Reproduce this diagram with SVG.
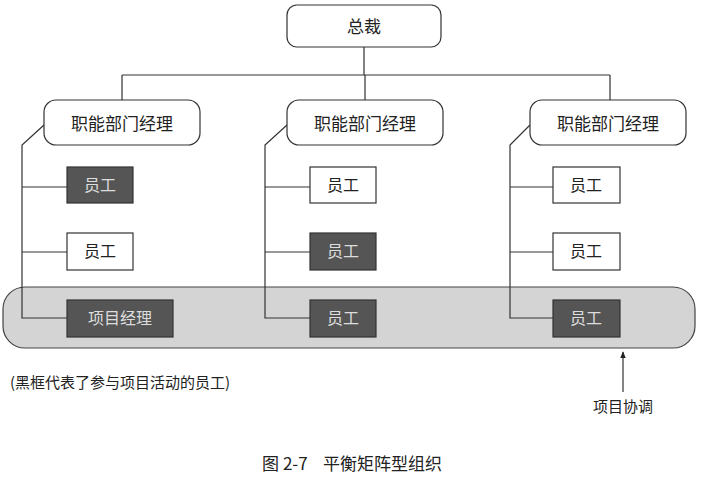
<svg xmlns="http://www.w3.org/2000/svg" width="701" height="477" viewBox="0 0 701 477">
<style>
text{font-family:"Noto Sans CJK SC","Liberation Sans",sans-serif;fill:#222;text-anchor:middle}
.mgr{fill:#fff;stroke:#333;stroke-width:1.2}
.w{fill:#fff;stroke:#333;stroke-width:1.2}
.d{fill:#555;stroke:#333;stroke-width:1.2}
.dt{fill:#ddd}
.c{fill:none;stroke:#333;stroke-width:1.2}
</style>
<defs><marker id="ah" viewBox="0 0 10 10" refX="9" refY="5" markerWidth="6" markerHeight="8" orient="auto"><path d="M0,1L10,5L0,9z" fill="#222"/></marker></defs>
<g id="band"><rect x="3" y="287" width="692" height="61" rx="22" fill="#d4d4d4" stroke="#444" stroke-width="1.2"/></g>
<g id="connectors">
<path class="c" d="M364,47V75M122,75H610M122,75V100M365,75V100M610,75V100"/>
<path class="c" d="M44,125L22,145V318H67M22,187H67M22,252H67"/>
<path class="c" d="M287,125L265,145V318H310M265,187H310M265,252H310"/>
<path class="c" d="M530,125L510,145V318H553M510,187H553M510,252H553"/>
<path class="c" d="M623,392V352" marker-end="url(#ah)"/>
</g>
<g id="ceo"><rect class="mgr" x="287" y="5" width="154" height="42" rx="10"/><text x="364" y="33" font-size="17">总裁</text></g>
<g id="m1"><rect class="mgr" x="44" y="100" width="156" height="45" rx="12"/><text x="122" y="130" font-size="17">职能部门经理</text></g>
<g id="m2"><rect class="mgr" x="287" y="100" width="156" height="45" rx="12"/><text x="365" y="130" font-size="17">职能部门经理</text></g>
<g id="m3"><rect class="mgr" x="530" y="100" width="156" height="45" rx="12"/><text x="608" y="130" font-size="17">职能部门经理</text></g>
<g id="e11"><rect class="d" x="67" y="167" width="66" height="36"/><text class="dt" x="100" y="191" font-size="16">员工</text></g>
<g id="e12"><rect class="w" x="67" y="233" width="66" height="37"/><text x="100" y="257" font-size="16">员工</text></g>
<g id="e13"><rect class="d" x="67" y="300" width="106" height="37"/><text class="dt" x="120" y="324" font-size="16">项目经理</text></g>
<g id="e21"><rect class="w" x="310" y="167" width="66" height="36"/><text x="343" y="191" font-size="16">员工</text></g>
<g id="e22"><rect class="d" x="310" y="233" width="66" height="37"/><text class="dt" x="343" y="257" font-size="16">员工</text></g>
<g id="e23"><rect class="d" x="310" y="300" width="66" height="37"/><text class="dt" x="343" y="324" font-size="16">员工</text></g>
<g id="e31"><rect class="w" x="553" y="167" width="67" height="36"/><text x="586" y="191" font-size="16">员工</text></g>
<g id="e32"><rect class="w" x="553" y="233" width="67" height="37"/><text x="586" y="257" font-size="16">员工</text></g>
<g id="e33"><rect class="d" x="553" y="300" width="67" height="37"/><text class="dt" x="586" y="324" font-size="16">员工</text></g>
<text x="10" y="388" font-size="15" style="text-anchor:start">(黑框代表了参与项目活动的员工)</text>
<text x="623" y="412" font-size="15">项目协调</text>
<text x="352" y="470" font-size="17" xml:space="preserve">图 2-7    平衡矩阵型组织</text>
</svg>
